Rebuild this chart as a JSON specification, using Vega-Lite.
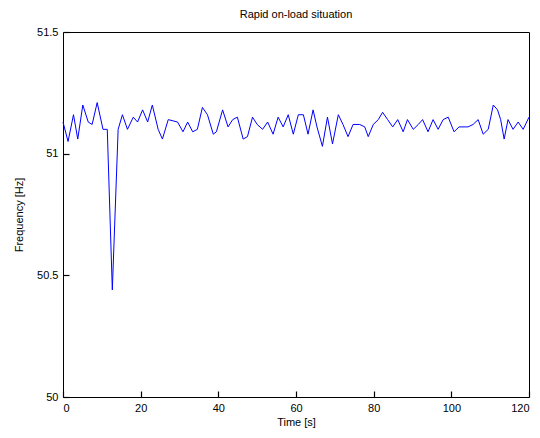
{
  "$schema": "https://vega.github.io/schema/vega-lite/v6.json",
  "width": 466,
  "height": 365,
  "autosize": {"type": "none"},
  "padding": {"left": 63, "top": 32, "right": 11, "bottom": 41},
  "background": "white",
  "title": {"text": "Rapid on-load situation", "fontSize": 11, "font": "Liberation Sans", "fontWeight": "normal", "color": "black", "anchor": "middle", "offset": 6},
  "config": {
    "view": {"stroke": "black", "strokeWidth": 1},
    "axis": {"grid": false, "tickColor": "#000000", "tickSize": 6, "tickWidth": 1.2, "domainOpacity": 0, "labelFont": "Liberation Sans", "labelFontSize": 11, "labelColor": "black", "titleFont": "Liberation Sans", "titleFontSize": 11, "titleFontWeight": "normal", "titleColor": "black"}
  },
  "data": {"values": [
    {"t": 0.0, "f": 51.13}, {"t": 1.3, "f": 51.05}, {"t": 2.7, "f": 51.16}, {"t": 3.8, "f": 51.06},
    {"t": 5.1, "f": 51.2}, {"t": 6.5, "f": 51.13}, {"t": 7.5, "f": 51.12}, {"t": 8.8, "f": 51.21},
    {"t": 10.3, "f": 51.1}, {"t": 11.4, "f": 51.1}, {"t": 12.7, "f": 50.44}, {"t": 14.2, "f": 51.1},
    {"t": 15.3, "f": 51.16}, {"t": 16.6, "f": 51.1}, {"t": 18.1, "f": 51.15}, {"t": 19.2, "f": 51.13},
    {"t": 20.5, "f": 51.18}, {"t": 21.8, "f": 51.13}, {"t": 23.0, "f": 51.2}, {"t": 24.5, "f": 51.1},
    {"t": 25.6, "f": 51.06}, {"t": 27.1, "f": 51.14}, {"t": 29.5, "f": 51.13}, {"t": 30.9, "f": 51.09},
    {"t": 32.1, "f": 51.13}, {"t": 33.4, "f": 51.09}, {"t": 34.6, "f": 51.1}, {"t": 35.9, "f": 51.19},
    {"t": 37.2, "f": 51.16}, {"t": 38.7, "f": 51.08}, {"t": 39.5, "f": 51.09}, {"t": 41.1, "f": 51.18},
    {"t": 42.5, "f": 51.11}, {"t": 43.7, "f": 51.14}, {"t": 44.9, "f": 51.15}, {"t": 46.4, "f": 51.06},
    {"t": 47.5, "f": 51.07}, {"t": 48.8, "f": 51.15}, {"t": 50.0, "f": 51.12}, {"t": 51.4, "f": 51.1},
    {"t": 52.7, "f": 51.13}, {"t": 54.1, "f": 51.08}, {"t": 55.4, "f": 51.15}, {"t": 56.7, "f": 51.11},
    {"t": 58.0, "f": 51.16}, {"t": 59.3, "f": 51.08}, {"t": 60.6, "f": 51.16}, {"t": 61.9, "f": 51.16},
    {"t": 63.1, "f": 51.08}, {"t": 64.4, "f": 51.18}, {"t": 65.4, "f": 51.11}, {"t": 66.8, "f": 51.03},
    {"t": 68.1, "f": 51.15}, {"t": 69.4, "f": 51.04}, {"t": 70.9, "f": 51.16}, {"t": 72.1, "f": 51.12},
    {"t": 73.4, "f": 51.07}, {"t": 74.7, "f": 51.12}, {"t": 76.4, "f": 51.12}, {"t": 77.7, "f": 51.11},
    {"t": 78.6, "f": 51.07}, {"t": 79.9, "f": 51.12}, {"t": 81.2, "f": 51.14}, {"t": 82.3, "f": 51.17},
    {"t": 83.6, "f": 51.14}, {"t": 84.9, "f": 51.11}, {"t": 86.2, "f": 51.14}, {"t": 87.6, "f": 51.09},
    {"t": 88.7, "f": 51.14}, {"t": 90.2, "f": 51.1}, {"t": 91.5, "f": 51.12}, {"t": 92.6, "f": 51.14},
    {"t": 94.0, "f": 51.09}, {"t": 95.3, "f": 51.14}, {"t": 96.6, "f": 51.1}, {"t": 97.9, "f": 51.14},
    {"t": 99.2, "f": 51.15}, {"t": 100.7, "f": 51.09}, {"t": 102.0, "f": 51.11}, {"t": 103.7, "f": 51.11},
    {"t": 104.3, "f": 51.11}, {"t": 105.6, "f": 51.12}, {"t": 106.9, "f": 51.14}, {"t": 108.2, "f": 51.08},
    {"t": 109.5, "f": 51.1}, {"t": 110.8, "f": 51.2}, {"t": 111.9, "f": 51.18}, {"t": 112.7, "f": 51.14},
    {"t": 113.6, "f": 51.06}, {"t": 114.6, "f": 51.14}, {"t": 115.9, "f": 51.1}, {"t": 117.2, "f": 51.13},
    {"t": 118.5, "f": 51.1}, {"t": 120.0, "f": 51.15}
  ]},
  "mark": {"type": "line", "color": "#0000ff", "strokeWidth": 1},
  "encoding": {
    "x": {"field": "t", "type": "quantitative", "scale": {"domain": [0, 120], "nice": false, "zero": false}, "axis": {"title": "Time [s]", "values": [0, 20, 40, 60, 80, 100, 120], "offset": -6, "labelPadding": 5, "titlePadding": 3}},
    "y": {"field": "f", "type": "quantitative", "scale": {"domain": [50, 51.5], "nice": false, "zero": false}, "axis": {"title": "Frequency [Hz]", "values": [50, 50.5, 51, 51.5], "format": "~g", "offset": -6, "labelPadding": 5, "titlePadding": 12}}
  }
}
